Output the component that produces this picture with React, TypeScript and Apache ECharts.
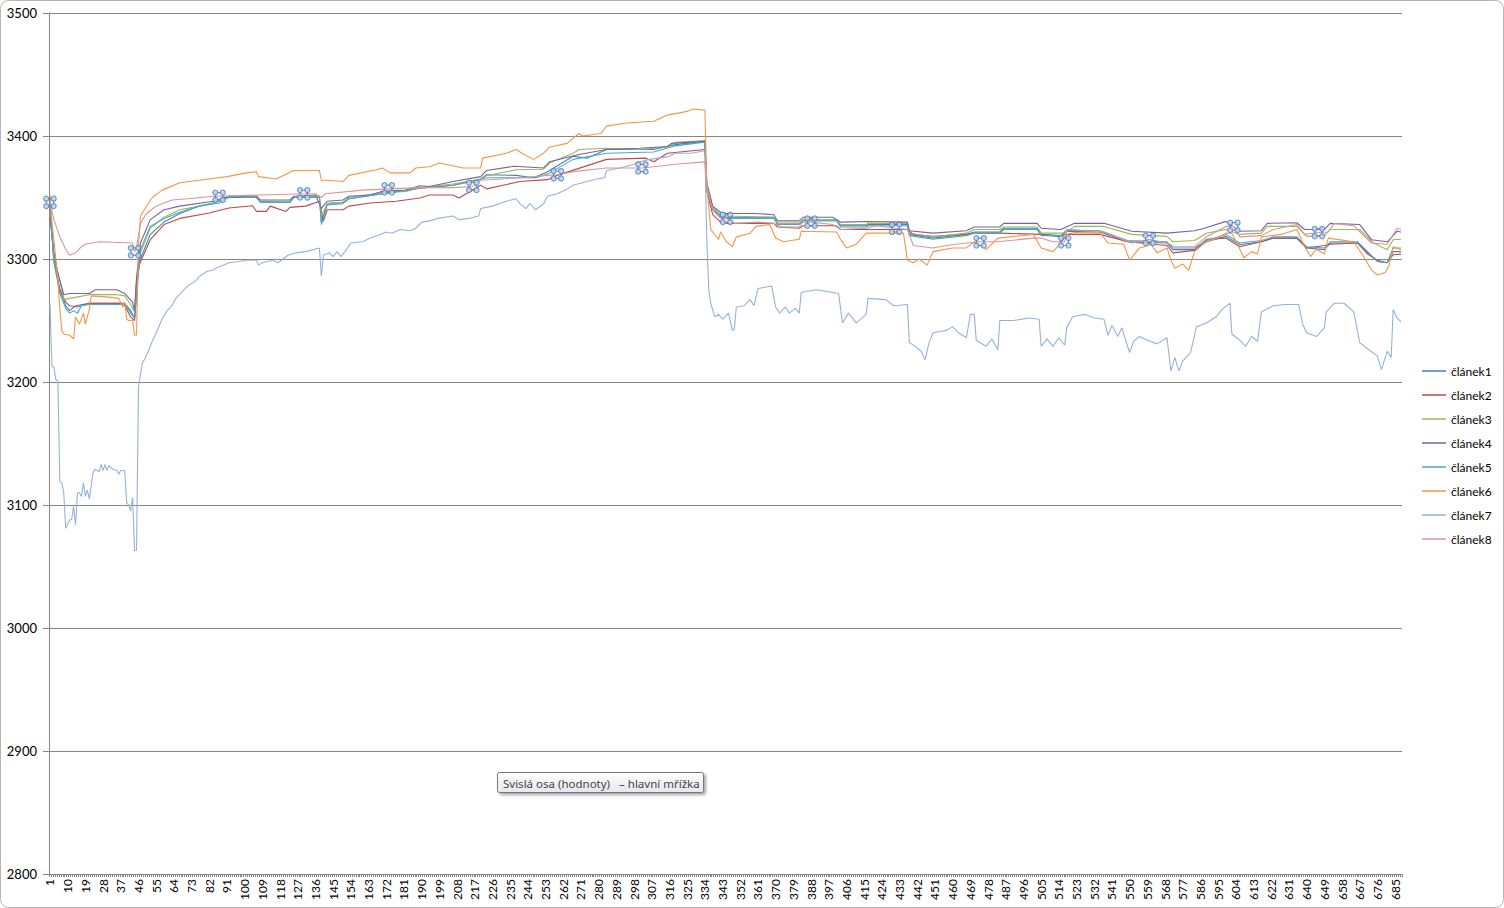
import { useEffect, useRef } from 'react';
import * as echarts from 'echarts';

const N_CATEGORIES = 688;
const CATEGORIES = Array.from({ length: N_CATEGORIES }, (_, i) => String(i + 1));
const SERIES_NAMES = ['článek1', 'článek2', 'článek3', 'článek4', 'článek5', 'článek6', 'článek7', 'článek8'];
const COLORS = ['#4A7EBB', '#BE4B48', '#98B954', '#7D60A0', '#46AAC5', '#F69546', '#95B3D7', '#D99694'];
const Y_MIN = 2800;
const Y_MAX = 3500;
const Y_STEP = 100;
const HANDLE_IDX = [0, 43, 86, 129, 172, 215, 258, 301, 344, 387, 430, 473, 516, 559, 602, 645];
const TOOLTIP_TEXT = 'Svislá osa (hodnoty)   – hlavní mřížka';

// [category index, value]
const S1 = [[0,3345],[2,3300],[5,3275],[8,3262],[10,3258],[13,3262],[20,3264],[38,3264],[41,3258],[43,3252],[44,3280],[46,3300],[51,3320],[58,3330],[66,3337],[76,3343],[83,3345.5],[91,3350],[105,3350],[107,3347],[122,3346],[124,3350],[137,3351],[138,3330],[141,3345],[149,3346],[152,3349],[169,3353],[188,3357.5],[205,3360],[219,3365],[222,3368.5],[237,3368],[246,3366],[253,3371],[266,3383.5],[273,3382],[283,3389],[307,3389],[318,3393],[333,3395.6],
[334,3358],[337,3341],[341,3335],[344,3334],[368,3334],[370,3329],[381,3329],[383,3332],[400,3332],[402,3327],[415,3327],[416,3328],[436,3328],[437,3320],[449,3317],[466,3320],[470,3322],[483,3322],[485,3325],[502,3325],[504,3320],[514,3318],[517,3322.5],[534,3322],[548,3314],[568,3313],[571,3307.6],[582,3307.6],[588,3314],[598,3318.4],[605,3311.6],[616,3314],[622,3317],[634,3317],[639,3309],[648,3307.6],[651,3313],[665,3313],[670,3305],[675,3298],[680,3297],[683,3306],[687,3306]];

const S2 = [[0,3340],[2,3298],[5,3275],[8,3265],[10,3262],[14,3261],[20,3264],[36,3264],[38,3262],[41,3253],[43,3250],[44,3270],[45,3294],[51,3315.7],[58,3328],[66,3333],[81,3337.4],[91,3341.5],[103,3343.3],[105,3338.7],[110,3338.7],[112,3343],[120,3338.7],[122,3342],[130,3343],[137,3347],[139,3330.6],[141,3340],[149,3340],[152,3343],[163,3345.5],[176,3347],[188,3349.6],[193,3352],[205,3352],[208,3349.6],[219,3360],[222,3357],[239,3363],[253,3364.5],[258,3368],[283,3381],[303,3382],[307,3379],[314,3386],[333,3389],
[334,3355],[337,3336],[341,3330],[344,3329],[368,3329],[370,3326],[381,3325],[383,3327],[400,3327],[402,3324],[436,3324],[439,3320],[449,3318.5],[466,3320],[470,3321],[483,3321],[504,3320],[514,3319],[517,3320],[534,3320],[548,3314],[568,3311],[571,3305],[582,3307],[588,3316],[598,3317],[605,3310],[616,3314],[622,3317],[634,3317],[639,3309],[648,3311],[651,3312],[665,3313],[670,3304],[675,3299],[680,3297],[683,3303.5],[687,3304]];

const S3 = [[0,3338],[2,3300],[5,3282],[7,3267],[10,3268],[20,3271],[34,3271],[38,3270],[41,3263],[43,3257],[44,3280],[46,3305],[51,3325],[58,3334],[66,3340],[76,3343],[83,3345.5],[91,3351],[105,3350],[107,3347],[122,3347],[124,3350],[137,3351],[138,3335],[141,3345],[149,3346],[152,3350],[169,3354],[181,3355],[188,3358],[205,3361],[219,3365],[222,3367.7],[237,3372.6],[251,3373],[254,3378],[266,3386],[269,3389],[283,3390],[300,3389],[314,3391],[318,3394.8],[333,3396.4],
[334,3360],[337,3342],[341,3336],[344,3335],[368,3334],[370,3329],[381,3329],[383,3332],[400,3332],[402,3328],[415,3328],[416,3329],[436,3329],[437,3321],[449,3318],[466,3321],[470,3324],[483,3324],[485,3326],[502,3326],[504,3321],[516,3321],[521,3326.5],[536,3326.5],[550,3320],[568,3318.4],[571,3314],[582,3315],[588,3321],[598,3324],[605,3320],[616,3321],[619,3326.5],[634,3326.5],[639,3318.4],[648,3319],[651,3324],[666,3324],[673,3313],[680,3307.6],[683,3315.7],[687,3316]];

const S4 = [[0,3334],[2,3305],[4,3289],[7,3271],[10,3272],[20,3272],[23,3275],[34,3275],[38,3272],[42,3265],[43,3258],[44,3285],[46,3313],[51,3332],[58,3340],[66,3343],[83,3347],[91,3351],[105,3351],[107,3348],[122,3348],[124,3351],[135,3352],[138,3341],[141,3347],[149,3348],[152,3351],[163,3352],[169,3355],[181,3356],[188,3359.6],[193,3359],[205,3363],[219,3367],[222,3372],[236,3375.4],[251,3374],[254,3379],[269,3385],[283,3389],[300,3390],[314,3391.5],[316,3394],[333,3395.6],
[334,3362],[337,3343],[341,3338],[344,3337],[359,3337],[368,3336],[370,3331],[381,3331],[383,3334],[398,3334],[402,3330],[416,3330.5],[436,3330],[437,3323],[449,3321],[466,3323],[470,3326],[483,3326],[485,3329],[502,3329],[504,3325],[514,3324],[521,3329],[536,3329],[550,3322.5],[568,3321],[582,3323],[587,3325],[598,3330.6],[605,3322.5],[616,3323],[619,3329],[634,3329.5],[638,3324],[648,3324],[651,3329],[666,3328],[672,3315.7],[680,3314],[685,3322.5],[687,3322]];

const S5 = [[0,3343],[2,3298],[5,3272],[8,3260],[10,3256],[12,3258],[14,3256],[16,3262],[20,3263],[38,3263],[41,3256],[43,3252],[44,3270],[46,3307.6],[51,3326.5],[58,3333],[66,3338],[76,3343],[86,3345.5],[91,3351],[105,3350],[107,3346],[122,3346],[124,3350],[137,3350],[138,3328],[141,3344],[149,3345],[152,3349],[169,3353],[188,3357.5],[205,3360],[215,3363],[222,3366],[247,3366],[253,3369],[266,3381],[283,3386],[307,3387],[318,3392],[333,3395],
[334,3356],[337,3340],[341,3334],[344,3333],[368,3333],[370,3328],[381,3328],[383,3331],[400,3331],[402,3326],[415,3326],[416,3327],[436,3327],[437,3319],[449,3316],[466,3319],[470,3321],[483,3321],[485,3324],[502,3324],[504,3319],[514,3319],[517,3323.5],[534,3323],[548,3315],[568,3314],[571,3309],[582,3309],[588,3315],[598,3320],[605,3313],[616,3315],[622,3318],[634,3318],[639,3310],[648,3309],[651,3314],[665,3314],[670,3306],[675,3298],[680,3297],[683,3309],[687,3309]];

const S6 = [[0,3352],[1,3330],[3,3300],[4,3283],[5,3260],[6,3242],[7,3239],[10,3238],[12,3235],[13,3253],[15,3247],[17,3256],[18,3247],[20,3259],[21,3270],[30,3269],[35,3268],[37,3261],[38,3265],[39,3251],[40,3250],[42,3250],[43,3238],[44,3238],[45,3310],[46,3335],[48,3340],[52,3350],[57,3356],[66,3362],[76,3364],[90,3367],[100,3370],[105,3371],[106,3367],[115,3365],[124,3372],[137,3372],[138,3364],[141,3364],[149,3363],[152,3368],[166,3372.6],[169,3374],[173,3370],[183,3370],[186,3374],[193,3375],[198,3378],[210,3374],[219,3374],[220,3382],[232,3386],[237,3389],[241,3385],[246,3381],[251,3386],[254,3391],[263,3394],[269,3402],[271,3400],[280,3402],[283,3408],[293,3410.6],[307,3412],[314,3417],[324,3420],[327,3422],[333,3421],
[334,3360],[336,3324],[340,3316],[341,3322],[344,3314],[347,3310],[349,3318],[356,3321],[359,3326.5],[366,3328],[369,3317],[373,3314],[381,3316],[382,3322.5],[400,3322],[402,3316],[405,3309],[410,3312],[415,3321],[434,3321],[436,3299],[439,3297],[442,3300],[446,3295],[449,3306],[459,3309],[466,3309],[470,3314],[476,3307.6],[482,3317],[500,3320],[504,3309],[510,3306],[514,3313],[517,3320],[521,3321.5],[534,3321],[538,3313],[546,3312],[549,3299],[554,3309],[560,3311.6],[563,3305],[568,3309],[570,3299],[572,3292.5],[576,3296],[579,3291],[582,3306],[587,3313],[592,3316],[598,3321],[601,3321],[604,3311.6],[607,3301],[611,3306],[614,3304],[616,3318],[626,3320],[634,3324],[638,3310],[641,3302],[644,3308],[648,3304],[650,3317],[663,3314],[668,3302],[672,3291],[675,3287],[679,3289],[681,3295],[683,3310],[687,3307.6]];

const S7 = [[0,3264],[1,3213],[2,3212],[3,3202],[4,3201],[5,3119],[6,3118],[7,3110],[8,3081],[10,3088],[11,3088],[12,3099],[13,3084],[14,3110],[15,3110],[16,3107],[17,3118],[18,3107],[19,3112],[20,3105],[22,3127],[23,3129],[25,3127],[26,3133],[27,3128],[28,3133],[29,3128],[30,3132],[32,3129],[34,3128],[35,3125],[36,3128],[38,3128],[39,3102],[40,3100],[41,3095],[42,3106],[43,3063],[44,3063],[45,3196],[46,3206],[47,3216],[48,3218],[50,3225],[52,3233],[54,3240],[57,3251],[59,3257],[62,3262],[64,3268],[67,3273],[70,3278],[74,3282],[76,3286],[80,3290],[83,3291],[85,3293],[88,3295],[91,3297],[96,3298],[100,3299],[105,3299],[106,3295],[108,3297],[113,3299],[116,3297],[121,3303],[125,3305],[130,3306],[137,3309],[138,3286],[139,3303],[142,3305],[144,3302],[146,3306],[148,3302],[150,3306],[153,3313],[159,3314],[163,3317],[168,3320],[171,3322],[174,3321],[178,3324],[183,3323],[186,3325],[189,3330],[193,3331],[197,3333],[205,3335],[208,3332],[213,3333],[218,3335],[219,3341],[225,3343],[232,3347],[237,3349],[239,3345],[242,3341],[244,3345],[247,3340],[251,3345],[253,3351],[258,3353],[263,3357],[266,3360],[273,3363],[278,3365],[282,3366],[283,3372],[290,3374],[297,3377],[300,3379],[305,3381],[314,3383],[318,3386],[326,3386],[333,3388],
[334,3315],[335,3275],[336,3264],[338,3253],[340,3255],[342,3251],[345,3256],[347,3242],[348,3243],[349,3261],[353,3262],[356,3267],[358,3262],[360,3276],[367,3278],[369,3261],[371,3256],[374,3261],[376,3256],[379,3260],[381,3256],[382,3273],[390,3275],[401,3272],[403,3248],[406,3256],[410,3248],[415,3255],[416,3268],[425,3267],[429,3262],[436,3263],[437,3232],[440,3229],[443,3225],[445,3218],[447,3232],[449,3240],[456,3242],[459,3245],[462,3240],[466,3236],[468,3255],[470,3255],[471,3234],[476,3229],[479,3235],[482,3226],[483,3250],[490,3250],[498,3252],[503,3251],[504,3229],[507,3235],[510,3229],[513,3236],[516,3230],[517,3244],[520,3253],[526,3255],[531,3252],[536,3251],[538,3238],[540,3246],[543,3237],[545,3244],[549,3224],[551,3233],[554,3237],[558,3234],[563,3231],[568,3236],[570,3209],[572,3220],[574,3209],[576,3217],[580,3224],[583,3245],[588,3248],[593,3253],[596,3259],[600,3264],[601,3239],[605,3234],[608,3229],[611,3237],[614,3233],[616,3257],[622,3262],[628,3263],[635,3263],[637,3247],[639,3240],[644,3237],[648,3244],[649,3257],[653,3264],[658,3264],[663,3257],[666,3232],[670,3227],[675,3221],[677,3210],[680,3225],[682,3220],[683,3259],[685,3252],[687,3249]];

const S8 = [[0,3346],[2,3332],[5,3318],[8,3308],[10,3303],[13,3305],[16,3310],[18,3312],[25,3314],[42,3313],[43,3306],[44,3309],[46,3329],[49,3337],[54,3343],[62,3348],[70,3349],[83,3351],[86,3351],[107,3352],[129,3353],[135,3353],[138,3350],[140,3353],[159,3356],[172,3357],[188,3358],[193,3358],[205,3358],[215,3359],[219,3364],[239,3366],[253,3368],[258,3368.5],[266,3371],[283,3374],[301,3374],[307,3375],[318,3377],[333,3379],
[334,3360],[336,3345],[338,3338],[341,3333],[344,3333],[348,3329],[360,3330],[368,3329],[372,3326],[381,3326],[383,3330],[387,3330],[398,3328],[402,3324],[415,3325],[420,3327],[430,3325],[436,3324],[439,3311],[449,3309],[456,3311],[466,3313],[473,3314],[482,3314],[500,3317],[504,3317],[510,3314],[516,3314],[517,3324],[536,3322],[550,3313],[559,3316],[568,3313],[572,3310],[582,3310],[588,3318],[598,3326.5],[602,3326.5],[605,3318],[616,3319],[622,3324],[634,3328],[638,3320],[645,3321.5],[650,3322],[653,3329],[663,3327],[672,3313],[680,3312],[685,3325],[687,3324]];

const LINES = [S1, S2, S3, S4, S5, S6, S7, S8];

export default function App() {
  const ref = useRef<HTMLDivElement>(null);

  useEffect(() => {
    if (!ref.current) return;
    const chart = echarts.init(ref.current, null, { renderer: 'svg' });

    const handlePts = HANDLE_IDX.map((i) => {
      const p = S8.find((d) => d[0] === i);
      return [i, p ? p[1] : null];
    });
    const handleOffsets = [[-3.7, -3.7], [3.7, -3.7], [-3.7, 3.7], [3.7, 3.7]];

    const lineSeries = LINES.map((d, k) => ({
      name: SERIES_NAMES[k],
      type: 'line',
      data: d,
      symbol: 'none',
      showSymbol: false,
      lineStyle: { width: 1.1, color: COLORS[k] },
      itemStyle: { color: COLORS[k] },
      emphasis: { disabled: true },
      silent: true,
      z: 2,
    }));

    const handleSeries: any[] = [
      {
        name: 'handles',
        type: 'scatter',
        data: handlePts,
        symbol: 'rect',
        symbolSize: 7.4,
        itemStyle: { color: 'rgba(0,0,0,0)', borderColor: '#4F81BD', borderWidth: 1.2 },
        silent: true,
        z: 5,
      },
      ...handleOffsets.map((off) => ({
        name: 'handles',
        type: 'scatter',
        data: handlePts,
        symbol: 'circle',
        symbolSize: 5,
        symbolOffset: off,
        itemStyle: { color: '#C9DAF0', borderColor: '#4F81BD', borderWidth: 1.2 },
        silent: true,
        z: 6,
      })),
    ];

    const option: any = {
      animation: false,
      backgroundColor: '#ffffff',
      grid: {
        left: 49,
        right: 102,
        top: 13,
        bottom: 34,
        containLabel: false,
        outerBoundsMode: 'none',
      },
      legend: {
        orient: 'vertical',
        left: 1417,
        top: 359,
        icon: 'rect',
        itemWidth: 24,
        itemHeight: 1.5,
        itemGap: 10,
        data: SERIES_NAMES,
        selectedMode: false,
        textStyle: { fontSize: 12, fontFamily: 'Lato', color: '#000', lineHeight: 14 },
      },
      xAxis: {
        type: 'category',
        data: CATEGORIES,
        boundaryGap: true,
        axisLine: { show: true, lineStyle: { color: '#868686', width: 1 } },
        axisTick: { show: true, interval: 0, length: 3, lineStyle: { color: '#868686' } },
        axisLabel: {
          interval: 8,
          rotate: 90,
          fontSize: 12,
          fontFamily: 'Lato',
          color: '#000',
          margin: 5,
        },
        splitLine: { show: false },
      },
      yAxis: {
        type: 'value',
        min: Y_MIN,
        max: Y_MAX,
        interval: Y_STEP,
        axisLine: { show: true, lineStyle: { color: '#868686', width: 1 } },
        axisTick: { show: true, length: 6, lineStyle: { color: '#868686' } },
        axisLabel: {
          fontSize: 13,
          fontFamily: 'Lato',
          color: '#000',
          margin: 12,
          formatter: (v: number) => String(v),
        },
        splitLine: { show: true, lineStyle: { color: '#868686', width: 1 } },
      },
      graphic: [
        {
          type: 'rect',
          silent: true,
          z: -10,
          shape: { x: 0.5, y: 0.5, width: 1503, height: 907, r: 8 },
          style: { fill: 'none', stroke: '#B5B5B5', lineWidth: 1 },
        },
        {
          type: 'rect',
          silent: true,
          z: 100,
          shape: { x: 497.5, y: 772.5, width: 206, height: 20, r: 2 },
          style: {
            fill: new echarts.graphic.LinearGradient(0, 0, 0, 1, [
              { offset: 0, color: '#FFFFFF' },
              { offset: 1, color: '#E6E7EF' },
            ]),
            stroke: '#767676',
            lineWidth: 1,
            shadowBlur: 3,
            shadowOffsetX: 2,
            shadowOffsetY: 2,
            shadowColor: 'rgba(0,0,0,0.35)',
          },
        },
        {
          type: 'text',
          silent: true,
          z: 101,
          x: 503,
          y: 783,
          style: {
            text: TOOLTIP_TEXT,
            fill: '#444444',
            fontSize: 11.5,
            fontFamily: 'Noto Sans',
            align: 'left',
            verticalAlign: 'middle',
          },
        },
      ],
      series: [...lineSeries, ...handleSeries],
    };

    chart.setOption(option);
    return () => chart.dispose();
  }, []);

  return (
    <div
      ref={ref}
      style={{ position: 'fixed', left: 0, top: 0, width: 1504, height: 908, background: '#fff' }}
    />
  );
}
